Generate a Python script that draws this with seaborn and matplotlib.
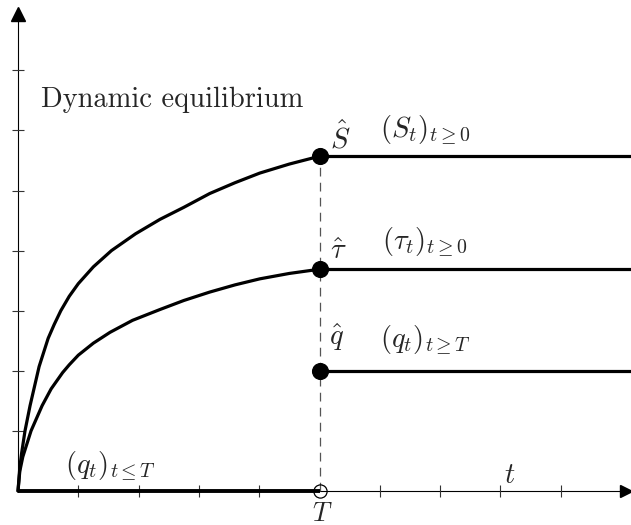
import numpy as np
import pandas as pd
import matplotlib
matplotlib.use("Agg")
import matplotlib.pyplot as plt
import seaborn as sns

# values (t in units of the x ticks, T = 5)
T = 5.0
t_S = [0, 0.03, 0.06, 0.116, 0.2, 0.35, 0.5, 0.6, 0.71, 0.85, 1.0, 1.25, 1.55, 1.95, 2.355, 2.75, 3.18, 3.6, 4.01, 4.5, 5.0]
S = [0, 0.39, 0.63, 1.0, 1.42, 2.07, 2.54, 2.77, 3.0, 3.24, 3.45, 3.73, 4.0, 4.28, 4.52, 4.72, 4.95, 5.13, 5.29, 5.44, 5.57]
t_tau = [0, 0.03, 0.08, 0.216, 0.4, 0.55, 0.74, 0.85, 1.0, 1.25, 1.526, 1.9, 2.355, 2.75, 3.18, 3.6, 4.01, 4.5, 5.0]
tau = [0, 0.33, 0.57, 1.0, 1.42, 1.7, 1.97, 2.1, 2.26, 2.46, 2.64, 2.84, 3.02, 3.17, 3.31, 3.43, 3.53, 3.62, 3.69]
S_hat, tau_hat, q_hat = 5.57, 3.69, 2.0
x_ticks = [1, 2, 3, 4, 6, 7, 8, 9]
y_ticks = [1, 2, 3, 4, 5, 6, 7]
t_end = 10.2

sns.set_style("white")
plt.rcParams["mathtext.fontset"] = "cm"
plt.rcParams["font.family"] = ["cmr10", "DejaVu Serif"]

fig = plt.figure(figsize=(6.31, 5.25), dpi=100)
ax = fig.add_axes([0, 0, 1, 1])
ax.set_xlim(-18 / 60.3, 613 / 60.3)
ax.set_ylim(-34 / 60.1, 491 / 60.1)

# axes drawn through the origin
ax.plot([0, 10.05], [0, 0], color="black", lw=0.8, zorder=1)
ax.plot([0, 0], [0, 7.9], color="black", lw=0.8, zorder=1)
ax.plot([10.08], [0], marker=">", color="black", ms=9, clip_on=False)
ax.plot([0], [7.93], marker="^", color="black", ms=10, clip_on=False)
ax.plot(x_ticks, [0] * len(x_ticks), ls="none", marker="|", ms=8.5, mew=0.8, color="#333333")
ax.plot([0] * len(y_ticks), y_ticks, ls="none", marker="_", ms=8.5, mew=0.8, color="#333333")

# dashed vertical at T
ax.plot([T, T], [0, S_hat], color="#555555", lw=0.9, ls=(0, (7, 5)), zorder=1)

# paths
sns.lineplot(x=t_S, y=S, ax=ax, color="black", lw=2.3, sort=False, estimator=None,
             solid_joinstyle="round")
sns.lineplot(x=t_tau, y=tau, ax=ax, color="black", lw=2.3, sort=False, estimator=None,
             solid_joinstyle="round")
for level in [S_hat, tau_hat, q_hat]:
    ax.plot([T, t_end], [level, level], color="black", lw=2.3)
ax.plot([0, T], [0, 0], color="black", lw=2.8, solid_capstyle="butt")

pts = pd.DataFrame({"t": [T, T, T], "v": [S_hat, tau_hat, q_hat]})
sns.scatterplot(data=pts, x="t", y="v", ax=ax, color="black", s=130, edgecolor="black", zorder=5)
ax.plot([T], [0], marker="o", ms=9.5, mfc="none", mec="black", mew=0.9, zorder=5)

# labels
fs = 20.5
ax.text(0.38, 6.39, "Dynamic equilibrium", fontsize=fs, ha="left", va="baseline")
ax.text(5.34, 5.87, r"$\hat{S}$", fontsize=fs, ha="center", va="center")
ax.text(6.75, 6.01, r"$(S_t)_{t\geq 0}$", fontsize=fs, ha="center", va="center")
ax.text(5.32, 3.98, r"$\hat{\tau}$", fontsize=fs, ha="center", va="center")
ax.text(6.75, 4.14, r"$(\tau_t)_{t\geq 0}$", fontsize=fs, ha="center", va="center")
ax.text(5.29, 2.55, r"$\hat{q}$", fontsize=fs, ha="center", va="center")
ax.text(6.75, 2.51, r"$(q_t)_{t\geq T}$", fontsize=fs, ha="center", va="center")
ax.text(1.54, 0.42, r"$(q_t)_{t\leq T}$", fontsize=fs, ha="center", va="center")
ax.text(8.16, 0.25, r"$t$", fontsize=fs, ha="center", va="center")
ax.text(5.04, -0.5, r"$T$", fontsize=19, ha="center", va="baseline")

ax.axis("off")
fig.savefig("out.png", dpi=100)
